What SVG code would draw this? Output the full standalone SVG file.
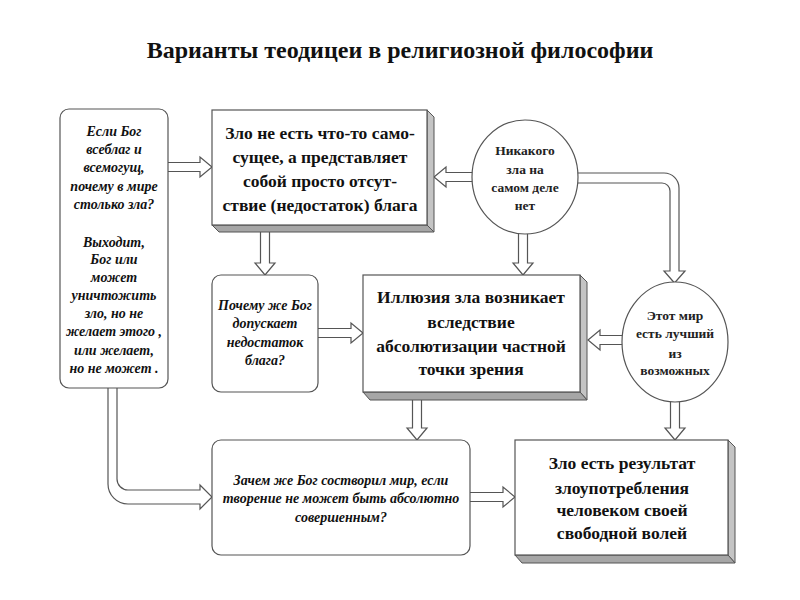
<svg xmlns="http://www.w3.org/2000/svg" width="800" height="600" viewBox="0 0 800 600">
<style>
.bg{fill:#fff}
.box{fill:#fff;stroke:#555;stroke-width:1.2}
.sr{fill:#c4c4c4;stroke:#555;stroke-width:1}
.sb{fill:#a6a6a6;stroke:#555;stroke-width:1}
.arr{fill:#fff;stroke:#555;stroke-width:1.2;stroke-linejoin:miter}
.t{font-family:"Liberation Serif","Times New Roman",serif;fill:#111;text-anchor:middle}
.title{font-size:24px;font-weight:bold}
.b{font-size:17.5px;font-weight:bold}
.c{font-size:13.5px;font-weight:bold;fill:#222}
.i{font-size:14px;font-style:italic;font-weight:bold}
</style>
<rect class="bg" width="800" height="600"/>
<text class="t title" x="400" y="58">Варианты теодицеи в религиозной философии</text>
<g id="connectors">
<path class="arr" d="M168,162.5 H200 V157 L212,167 L200,177 V171.5 H168"/>
<path class="arr" d="M476,172.5 H446 V167 L434,177 L446,187 V181.5 H476"/>
<path class="arr" d="M260.5,230 V263 H255 L265,275 L275,263 H269.5 V230"/>
<path class="arr" d="M518.5,230 V263 H513 L523,275 L533,263 H527.5 V230"/>
<path class="arr" d="M315,328.5 H351 V323 L363,333 L351,343 V337.5 H315"/>
<path class="arr" d="M626,335.5 H600 V330 L588,340 L600,350 V344.5 H626"/>
<path class="arr" d="M412.5,398 V428 H407 L417,440 L427,428 H421.5 V398"/>
<path class="arr" d="M670.5,398 V428 H665 L675,440 L685,428 H679.5 V398"/>
<path class="arr" d="M467,492.5 H503 V487 L515,497 L503,507 V501.5 H467"/>
<path class="arr" d="M574,173 H664 A15,15 0 0 1 679,188 V271 H685 L674.5,283 L664,271 H670 V191 A8,8 0 0 0 662,183 H574"/>
<path class="arr" d="M108,385 V484 A20,20 0 0 0 128,504 H200 V509 L212,497 L200,485 V490 H128 A11,11 0 0 1 117,479 V385"/>
</g>
<g id="n-question">
<rect class="box" x="60" y="109" width="108" height="279" rx="9"/>
<text class="t i" x="114"><tspan x="114" y="136">Если Бог</tspan><tspan x="114" y="154">всеблаг и</tspan><tspan x="114" y="172">всемогущ,</tspan><tspan x="114" y="191">почему в мире</tspan><tspan x="114" y="209">столько зла?</tspan><tspan x="114" y="247">Выходит,</tspan><tspan x="114" y="264">Бог или</tspan><tspan x="114" y="282">может</tspan><tspan x="114" y="300">уничтожить</tspan><tspan x="114" y="318">зло, но не</tspan><tspan x="114" y="336">желает этого ,</tspan><tspan x="114" y="355">или желает,</tspan><tspan x="114" y="373">но не может .</tspan></text>
</g>
<g id="n-absence">
<polygon class="sr" points="427,110 434,117 434,232 427,225"/>
<polygon class="sb" points="212,225 219,232 434,232 427,225"/>
<rect class="box" x="212" y="110" width="215" height="115"/>
<text class="t b"><tspan x="320" y="139">Зло не есть что-то само-</tspan><tspan x="320" y="163">сущее, а представляет</tspan><tspan x="320" y="187">собой просто отсут-</tspan><tspan x="320" y="211">ствие (недостаток) блага</tspan></text>
</g>
<g id="n-noevil">
<ellipse class="box" cx="525" cy="177" rx="53" ry="57"/>
<text class="t c"><tspan x="525" y="155">Никакого</tspan><tspan x="525" y="174">зла на</tspan><tspan x="525" y="192">самом деле</tspan><tspan x="525" y="210">нет</tspan></text>
</g>
<g id="n-why">
<rect class="box" x="212" y="275" width="106" height="117" rx="9"/>
<text class="t i"><tspan x="265" y="310">Почему же Бог</tspan><tspan x="265" y="328">допускает</tspan><tspan x="265" y="347">недостаток</tspan><tspan x="265" y="365">блага?</tspan></text>
</g>
<g id="n-illusion">
<polygon class="sr" points="580,275 587,282 587,400 580,392"/>
<polygon class="sb" points="363,392 370,400 587,400 580,392"/>
<rect class="box" x="363" y="275" width="217" height="117"/>
<text class="t b"><tspan x="471" y="303">Иллюзия зла возникает</tspan><tspan x="471" y="328">вследствие</tspan><tspan x="471" y="352">абсолютизации частной</tspan><tspan x="471" y="375">точки зрения</tspan></text>
</g>
<g id="n-best">
<ellipse class="box" cx="675" cy="342" rx="53" ry="60"/>
<text class="t c"><tspan x="675" y="320">Этот мир</tspan><tspan x="675" y="338">есть лучший</tspan><tspan x="675" y="358">из</tspan><tspan x="675" y="375">возможных</tspan></text>
</g>
<g id="n-create">
<rect class="box" x="212" y="440" width="258" height="115" rx="9"/>
<text class="t i"><tspan x="341" y="485">Зачем же Бог состворил мир, если</tspan><tspan x="341" y="503">творение не может быть абсолютно</tspan><tspan x="341" y="522">совершенным?</tspan></text>
</g>
<g id="n-freewill">
<polygon class="sr" points="728,440 735,447 735,563 728,555"/>
<polygon class="sb" points="515,555 522,563 735,563 728,555"/>
<rect class="box" x="515" y="440" width="213" height="115"/>
<text class="t b"><tspan x="622" y="469">Зло есть результат</tspan><tspan x="622" y="494">злоупотребления</tspan><tspan x="622" y="516">человеком своей</tspan><tspan x="622" y="539">свободной волей</tspan></text>
</g>
</svg>
